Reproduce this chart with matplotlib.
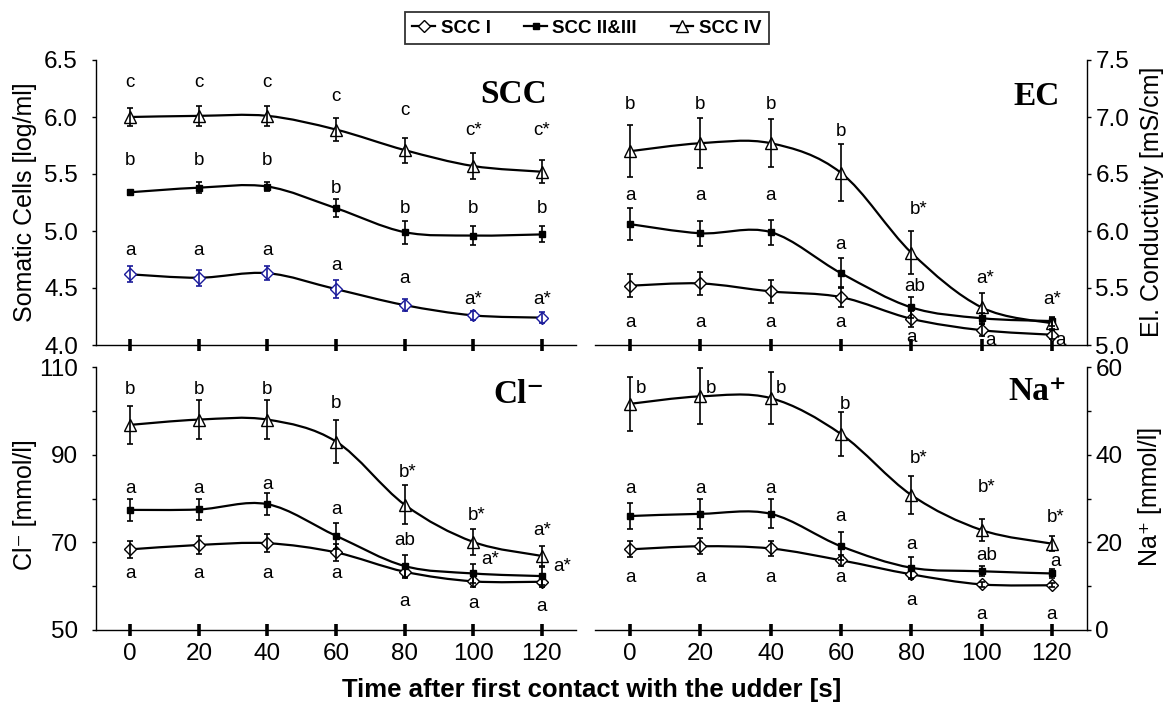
import numpy as np
import matplotlib
matplotlib.use("Agg")
import matplotlib.pyplot as plt
from matplotlib.path import Path
from matplotlib.patches import PathPatch
from matplotlib.lines import Line2D

# time points [s]
x = [0, 20, 40, 60, 80, 100, 120]
series_names = ["SCC I", "SCC II&III", "SCC IV"]

# somatic cells [log/ml]
scc_1 = [4.62, 4.59, 4.63, 4.49, 4.35, 4.26, 4.24]
scc_1_err = [0.07, 0.07, 0.06, 0.08, 0.05, 0.04, 0.05]
scc_23 = [5.34, 5.38, 5.39, 5.20, 4.99, 4.96, 4.97]
scc_23_err = [0.02, 0.05, 0.04, 0.08, 0.10, 0.08, 0.07]
scc_4 = [6.00, 6.01, 6.01, 5.89, 5.71, 5.57, 5.52]
scc_4_err = [0.08, 0.09, 0.09, 0.10, 0.11, 0.11, 0.10]

# electrical conductivity [mS/cm]
ec_1 = [5.52, 5.54, 5.47, 5.42, 5.23, 5.13, 5.09]
ec_1_err = [0.10, 0.10, 0.10, 0.09, 0.07, 0.05, 0.04]
ec_23 = [6.06, 5.98, 5.99, 5.63, 5.33, 5.235, 5.21]
ec_23_err = [0.14, 0.11, 0.11, 0.13, 0.09, 0.05, 0.04]
ec_4 = [6.70, 6.77, 6.77, 6.51, 5.81, 5.33, 5.19]
ec_4_err = [0.23, 0.22, 0.21, 0.25, 0.19, 0.13, 0.05]

# chloride [mmol/l]
cl_1 = [68.4, 69.4, 69.8, 67.7, 63.3, 61.1, 61.0]
cl_1_err = [2.0, 2.0, 2.0, 2.0, 1.5, 1.3, 1.3]
cl_23 = [77.4, 77.5, 78.7, 71.5, 64.6, 62.9, 62.3]
cl_23_err = [2.5, 2.5, 2.5, 3.0, 2.5, 2.1, 2.1]
cl_4 = [96.8, 98.0, 98.0, 93.0, 78.6, 70.1, 66.9]
cl_4_err = [4.4, 4.4, 4.4, 4.8, 4.4, 3.0, 2.3]

# sodium [mmol/l]
na_1 = [18.4, 19.1, 18.6, 15.9, 12.7, 10.4, 10.2]
na_1_err = [1.8, 1.8, 1.7, 1.3, 0.8, 0.6, 0.5]
na_23 = [26.0, 26.5, 26.5, 19.1, 14.2, 13.4, 12.9]
na_23_err = [3.0, 3.4, 3.3, 3.2, 2.5, 1.1, 1.0]
na_4 = [51.6, 53.3, 52.9, 44.7, 30.8, 22.8, 19.7]
na_4_err = [6.1, 6.4, 6.0, 5.0, 4.4, 2.5, 1.7]

# significance letters (x, y, text) per panel
scc_lab_x = [0, 20, 40, 60, 80, 100, 120, 0, 20, 40, 60, 80, 100, 120, 0, 20, 40, 60, 80, 100, 120]
scc_lab_y = [6.30, 6.30, 6.30, 6.18, 6.055, 5.88, 5.88,
             5.62, 5.62, 5.62, 5.375, 5.20, 5.20, 5.20,
             4.83, 4.83, 4.83, 4.70, 4.585, 4.40, 4.40]
scc_lab_txt = ["c", "c", "c", "c", "c", "c*", "c*",
               "b", "b", "b", "b", "b", "b", "b",
               "a", "a", "a", "a", "a", "a*", "a*"]

ec_lab_x = [0, 20, 40, 60, 82, 101, 120, 0, 20, 40, 60, 81, 0, 20, 40, 60, 80, 102.5, 122.5]
ec_lab_y = [7.11, 7.11, 7.11, 6.87, 6.19, 5.58, 5.40,
            6.31, 6.31, 6.31, 5.88, 5.51,
            5.20, 5.20, 5.20, 5.20, 5.07, 5.04, 5.04]
ec_lab_txt = ["b", "b", "b", "b", "b*", "a*", "a*",
              "a", "a", "a", "a", "ab",
              "a", "a", "a", "a", "a", "a", "a"]

cl_lab_x = [0, 20, 40, 60, 81, 101, 120, 0, 20, 40, 60, 80, 105, 126, 0, 20, 40, 60, 80, 100, 120]
cl_lab_y = [104.9, 104.9, 104.9, 101.6, 85.9, 76.1, 72.8,
            82.3, 82.3, 83.2, 77.4, 70.5, 66.1, 64.6,
            63.0, 63.0, 63.0, 63.0, 56.6, 56.0, 55.4]
cl_lab_txt = ["b", "b", "b", "b", "b*", "b*", "a*",
              "a", "a", "a", "a", "ab", "a*", "a*",
              "a", "a", "a", "a", "a", "a", "a"]

na_lab_x = [3, 23, 43, 61, 82, 101.5, 121, 0, 20, 40, 60, 80, 101.5, 121, 0, 20, 40, 60, 80, 100, 120]
na_lab_y = [55.2, 55.2, 55.2, 51.4, 39.1, 32.4, 25.6,
            32.3, 32.3, 32.3, 26.0, 19.5, 16.9, 15.6,
            11.9, 11.9, 11.9, 11.9, 6.8, 3.6, 3.6]
na_lab_txt = ["b", "b", "b", "b", "b*", "b*", "b*",
              "a", "a", "a", "a", "a", "ab", "a",
              "a", "a", "a", "a", "a", "a", "a"]

plt.rcParams["font.family"] = ["Liberation Sans", "DejaVu Sans"]
serif = ["Liberation Serif", "DejaVu Serif"]

fig = plt.figure(figsize=(11.66, 7.07), dpi=100)
W, H = 1166, 707
ax_scc = fig.add_axes([96 / W, 1 - 345 / H, 480 / W, 285 / H])
ax_ec = fig.add_axes([595 / W, 1 - 345 / H, 492 / W, 285 / H])
ax_cl = fig.add_axes([96 / W, 1 - 630 / H, 480 / W, 263 / H])
ax_na = fig.add_axes([595 / W, 1 - 630 / H, 492 / W, 263 / H])

marker_style = [("D", "white", 6.2), ("s", "black", 5), ("^", "white", 8)]


def smooth_path(xs, ys):
    # excel-like smoothed line: catmull-rom segments as cubic beziers
    pts = np.column_stack([xs, ys]).astype(float)
    n = len(pts)
    verts = [pts[0]]
    codes = [Path.MOVETO]
    for i in range(n - 1):
        p0 = pts[max(i - 1, 0)]
        p1 = pts[i]
        p2 = pts[i + 1]
        p3 = pts[min(i + 2, n - 1)]
        verts += [p1 + (p2 - p0) / 6, p2 - (p3 - p1) / 6, p2]
        codes += [Path.CURVE4] * 3
    return Path(verts, codes)


def draw_series(ax, ys, errs, style, edge="black"):
    m, fc, ms = style
    ax.add_patch(PathPatch(smooth_path(x, ys), fill=False, lw=1.6,
                           ec="black", zorder=2))
    ax.plot(x, ys, ls="none", marker=m, ms=ms, mfc=fc, mec=edge, mew=1.0, zorder=3)
    ax.errorbar(x, ys, yerr=errs, fmt="none", ecolor=edge, elinewidth=1.2,
                capsize=2.5, capthick=1.2, zorder=4)


def setup(ax, side, ylim, yticks, yminor, fmt, xlabels):
    ax.set_xlim(-10, 130)
    ax.set_ylim(ylim)
    ax.spines["top"].set_visible(False)
    for s in ax.spines.values():
        s.set_linewidth(1.0)
    if side == "left":
        ax.spines["right"].set_visible(False)
        ypad = 10
    else:
        ax.spines["left"].set_visible(False)
        ax.yaxis.tick_right()
        ypad = 3
    ax.set_xticks(x)
    ax.tick_params(axis="x", direction="inout", length=9, width=2.6,
                   labelbottom=xlabels, labelsize=17.5, pad=5)
    ax.set_yticks(yticks)
    ax.set_yticklabels([fmt.format(v) for v in yticks])
    ax.set_yticks(yminor, minor=True)
    ax.tick_params(axis="y", which="both", direction="out", length=3, width=1,
                   labelsize=17.5, pad=ypad)


setup(ax_scc, "left", (4.0, 6.5), [4.0, 4.5, 5.0, 5.5, 6.0, 6.5], [], "{:.1f}", False)
setup(ax_ec, "right", (5.0, 7.5), [5.0, 5.5, 6.0, 6.5, 7.0, 7.5], [], "{:.1f}", False)
setup(ax_cl, "left", (50, 110), [50, 70, 90, 110], [60, 80, 100], "{:.0f}", True)
setup(ax_na, "right", (0, 60), [0, 20, 40, 60], [10, 30, 50], "{:.0f}", True)

draw_series(ax_scc, scc_1, scc_1_err, marker_style[0], edge="#1a1a9a")
draw_series(ax_scc, scc_23, scc_23_err, marker_style[1])
draw_series(ax_scc, scc_4, scc_4_err, marker_style[2])

draw_series(ax_ec, ec_1, ec_1_err, marker_style[0])
draw_series(ax_ec, ec_23, ec_23_err, marker_style[1])
draw_series(ax_ec, ec_4, ec_4_err, marker_style[2])

draw_series(ax_cl, cl_1, cl_1_err, marker_style[0])
draw_series(ax_cl, cl_23, cl_23_err, marker_style[1])
draw_series(ax_cl, cl_4, cl_4_err, marker_style[2])

draw_series(ax_na, na_1, na_1_err, marker_style[0])
draw_series(ax_na, na_23, na_23_err, marker_style[1])
draw_series(ax_na, na_4, na_4_err, marker_style[2])

for ax, lx, ly, lt in [(ax_scc, scc_lab_x, scc_lab_y, scc_lab_txt),
                       (ax_ec, ec_lab_x, ec_lab_y, ec_lab_txt),
                       (ax_cl, cl_lab_x, cl_lab_y, cl_lab_txt),
                       (ax_na, na_lab_x, na_lab_y, na_lab_txt)]:
    for xx, yy, tt in zip(lx, ly, lt):
        ax.text(xx, yy, tt, ha="center", va="center", fontsize=13.5, zorder=5)

# panel titles
ax_scc.text(0.94, 0.88, "SCC", transform=ax_scc.transAxes, ha="right", va="center",
            fontsize=24, fontweight="bold", family=serif)
ax_ec.text(0.945, 0.871, "EC", transform=ax_ec.transAxes, ha="right", va="center",
           fontsize=24, fontweight="bold", family=serif)
ax_cl.text(0.935, 0.897, "Cl\u207b", transform=ax_cl.transAxes, ha="right", va="center",
           fontsize=24, fontweight="bold", family=serif)
ax_na.text(0.96, 0.906, "Na\u207a", transform=ax_na.transAxes, ha="right", va="center",
           fontsize=24, fontweight="bold", family=serif)

# axis titles
fig.text(25 / W, 1 - 202 / H, "Somatic Cells [log/ml]", rotation=90, ha="center",
         va="center", fontsize=18)
fig.text(1152 / W, 1 - 202 / H, "El. Conductivity [mS/cm]", rotation=90, ha="center",
         va="center", fontsize=18)
fig.text(25 / W, 1 - 505 / H, "Cl\u207b [mmol/l]", rotation=90, ha="center",
         va="center", fontsize=18)
fig.text(1150 / W, 1 - 496 / H, "Na\u207a [mmol/l]", rotation=90, ha="center",
         va="center", fontsize=18)
fig.text(592 / W, 1 - 690 / H, "Time after first contact with the udder [s]",
         ha="center", va="center", fontsize=18.5, fontweight="bold")

handles = [Line2D([], [], color="black", lw=1.6, marker=m, ms=ms, mfc=fc, mec="black")
           for m, fc, ms in marker_style]
leg = fig.legend(handles, series_names, loc="center", bbox_to_anchor=(587 / W, 1 - 28 / H),
                 ncol=3, frameon=True, fancybox=False, edgecolor="black",
                 prop={"weight": "bold", "size": 13.5}, handlelength=1.2,
                 handletextpad=0.3, columnspacing=1.8, borderpad=0.4)
leg.get_frame().set_linewidth(1.3)

fig.savefig("out.png", dpi=100)
